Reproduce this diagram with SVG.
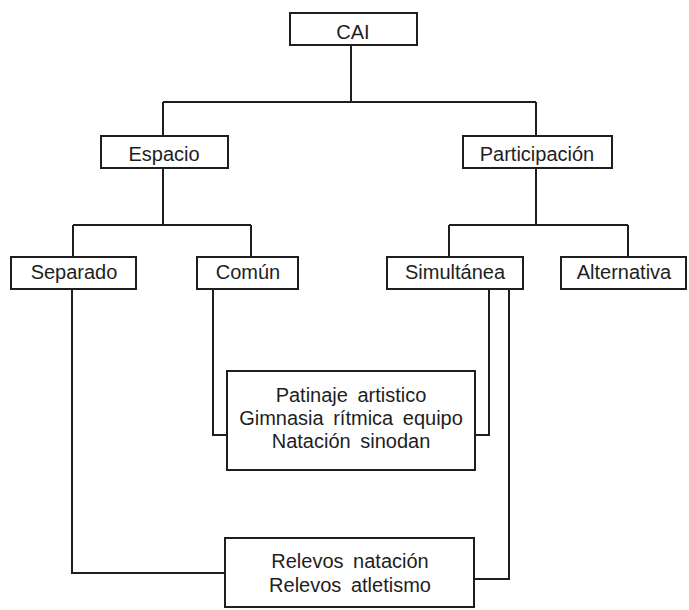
<svg xmlns="http://www.w3.org/2000/svg" width="689" height="610" viewBox="0 0 689 610">
  <style>
    .box { fill: #ffffff; stroke: #1e1e1e; stroke-width: 2; }
    .lbl { font-family: "Liberation Sans", Arial, sans-serif; font-size: 20px; fill: #1e1e1e; text-anchor: middle; }
    .list { word-spacing: 4px; }
    .wire { fill: none; stroke: #1e1e1e; stroke-width: 2; }
  </style>
  <rect width="689" height="610" fill="#ffffff"/>

  <!-- connectors -->
  <g id="connectors" class="wire">
    <path d="M351 45 V102 M163 102 H536 M163 102 V136 M536 102 V136"/>
    <path d="M163 168 V225 M73 225 H251 M73 225 V257 M251 225 V257"/>
    <path d="M536 168 V225 M449 225 H628 M449 225 V257 M628 225 V257"/>
    <path d="M72 289 V573 H225"/>
    <path d="M213 289 V435 H227"/>
    <path d="M489 289 V435 H475"/>
    <path d="M509 289 V579 H474"/>
  </g>

  <g id="cai">
    <rect class="box" x="290" y="13" width="127" height="32"/>
    <text class="lbl" x="353" y="39">CAI</text>
  </g>
  <g id="espacio">
    <rect class="box" x="101" y="136" width="127" height="32"/>
    <text class="lbl" x="164" y="161">Espacio</text>
  </g>
  <g id="participacion">
    <rect class="box" x="463" y="136" width="149" height="32"/>
    <text class="lbl" x="537" y="161">Participación</text>
  </g>
  <g id="separado">
    <rect class="box" x="11" y="257" width="125" height="32"/>
    <text class="lbl" x="74" y="279">Separado</text>
  </g>
  <g id="comun">
    <rect class="box" x="197" y="257" width="101" height="32"/>
    <text class="lbl" x="248" y="279">Común</text>
  </g>
  <g id="simultanea">
    <rect class="box" x="387" y="257" width="136" height="32"/>
    <text class="lbl" x="455" y="279">Simultánea</text>
  </g>
  <g id="alternativa">
    <rect class="box" x="561" y="257" width="125" height="32"/>
    <text class="lbl" x="624" y="279">Alternativa</text>
  </g>
  <g id="deportes-comun">
    <rect class="box" x="227" y="371" width="248" height="99"/>
    <text class="lbl list" x="351" y="402">Patinaje artistico</text>
    <text class="lbl list" x="351" y="425">Gimnasia rítmica equipo</text>
    <text class="lbl list" x="351" y="448">Natación sinodan</text>
  </g>
  <g id="relevos">
    <rect class="box" x="225" y="538" width="249" height="69"/>
    <text class="lbl list" x="350" y="568">Relevos natación</text>
    <text class="lbl list" x="350" y="592">Relevos atletismo</text>
  </g>
</svg>
